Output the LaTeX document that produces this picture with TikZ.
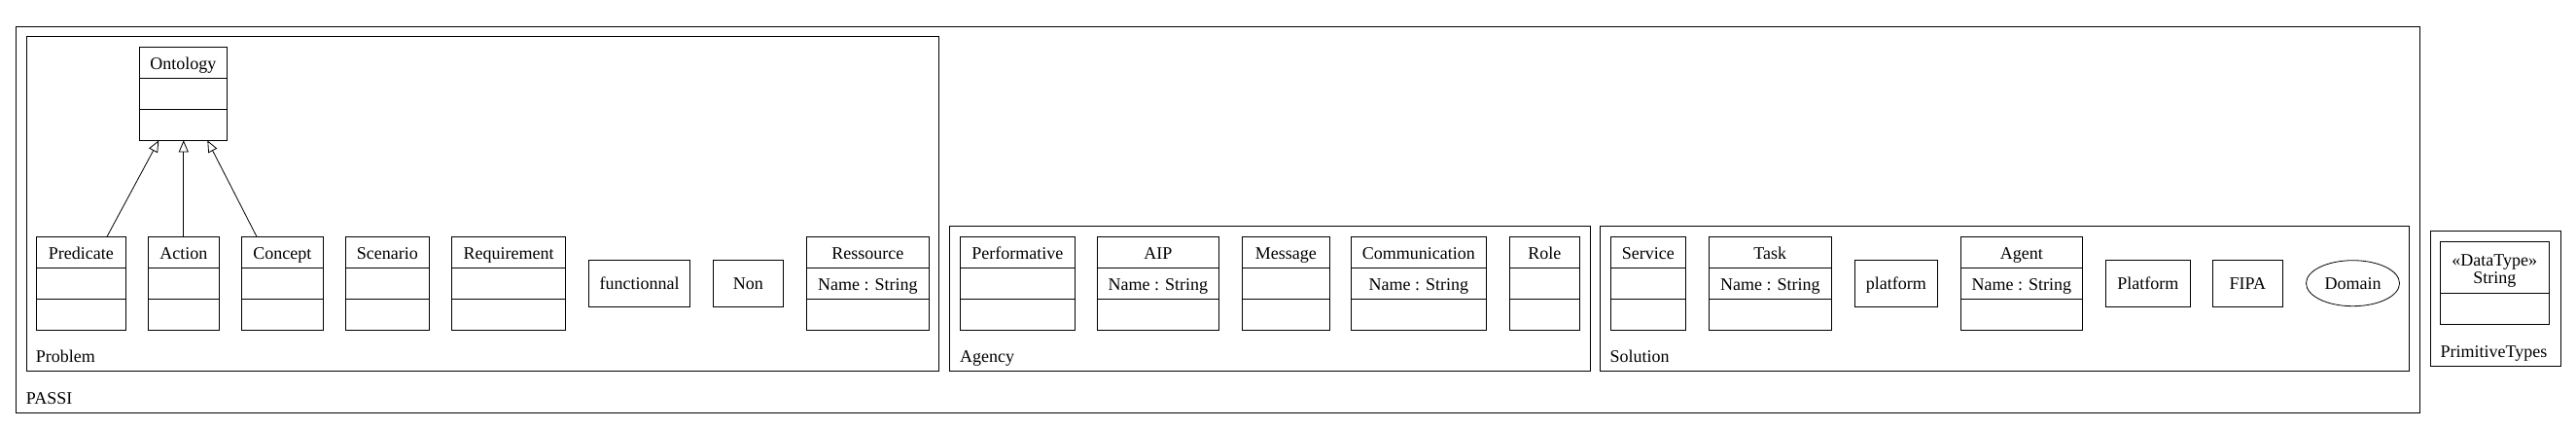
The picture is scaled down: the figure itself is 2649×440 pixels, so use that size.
\documentclass[tikz,border=0pt]{standalone}
\usepackage{fontspec}
\setmainfont{Liberation Serif}
\usetikzlibrary{arrows.meta,shapes.geometric}
\tikzset{
	thin line/.style={line width=0.8pt}
}
\tikzstyle{boxed}=[draw, line width=1pt, inner sep=0pt, outer sep=0pt, anchor=north west]
\tikzstyle{pkglabel}=[inner sep=0pt, anchor=base west]
\tikzstyle{classtext}=[inner sep=0pt, anchor=base]
\tikzstyle{inherits}=[thin line, -{Triangle[open, length=12pt, width=10pt]}]
% package frame: name, left, top, right, bottom
\newcommand{\pkgFrame}[5]{
	\node[boxed, minimum width={#4-#2}, minimum height={#5-#3}] (#1) at (#2,#3) {};
}
% class with two empty compartments: name, left, right, top, title
\newcommand{\umlClass}[5]{
	\node[boxed, minimum width={#3-#2}, minimum height=96] (#1) at (#2,#4) {};
	\draw[line width=1pt] ([yshift=-32pt]#1.north west) -- ([yshift=-32pt]#1.north east);
	\draw[line width=1pt] ([yshift=-64pt]#1.north west) -- ([yshift=-64pt]#1.north east);
	\node[classtext] (#1 title) at ([yshift=-22.7pt]#1.north) {#5};
}
\newcommand{\classAttr}[2]{
	\node[classtext] (#1 attr) at ([yshift=-54.7pt]#1.north) {#2};
}
% plain box: name, left, right, text
\newcommand{\plainBox}[4]{
	\node[boxed, minimum width={#3-#2}, minimum height=48, text height=12pt, text depth=0pt] (#1) at (#2,267.3) {#4};
}

\begin{document}
\begin{tikzpicture}[x=1pt, y=-1pt, font=\fontsize{18}{18.4}\selectfont]
	\fill[white] (0,0) rectangle (2649,440);
	% packages
	\pkgFrame{passi}{16.3}{27.3}{2488.3}{424}
	\pkgFrame{problem}{27.3}{37.3}{965.7}{381}
	\pkgFrame{agency}{976.3}{232.3}{1635.3}{381.3}
	\pkgFrame{solution}{1645.3}{232.3}{2477.3}{381.3}
	\pkgFrame{primitive}{2499.3}{237.3}{2633.3}{376}
	\node[pkglabel] (passi lbl) at (26.7,415) {PASSI};
	\node[pkglabel] (problem lbl) at (36.7,372.3) {Problem};
	\node[pkglabel] (agency lbl) at (987,372) {Agency};
	\node[pkglabel] (solution lbl) at (1655.5,372) {Solution};
	\node[pkglabel] (primitive lbl) at (2509.3,367) {PrimitiveTypes};

	% Problem
	\umlClass{ontology}{143.3}{233.3}{48.3}{Ontology}
	\umlClass{predicate}{37.3}{129.3}{243.3}{Predicate}
	\umlClass{action}{152.3}{225.3}{243.3}{Action}
	\umlClass{concept}{248.3}{332.3}{243.3}{Concept}
	\umlClass{scenario}{355.3}{441.3}{243.3}{Scenario}
	\umlClass{requirement}{464.3}{581.7}{243.3}{Requirement}
	\plainBox{functionnal}{605.3}{709.7}{functionnal}
	\plainBox{non}{733.3}{805.3}{Non}
	\umlClass{ressource}{829.3}{955.3}{243.3}{Ressource}
	\classAttr{ressource}{Name : String}
	\draw[inherits] ([xshift=26.7pt]predicate.north) -- ([xshift=-25pt]ontology.south);
	\draw[inherits] (action.north) -- (action.north |- ontology.south);
	\draw[inherits] ([xshift=-26.3pt]concept.north) -- ([xshift=25pt]ontology.south);

	% Agency
	\umlClass{performative}{987.3}{1105.3}{243.3}{Performative}
	\umlClass{aip}{1128.3}{1253.3}{243.3}{AIP}
	\classAttr{aip}{Name : String}
	\umlClass{message}{1277.3}{1367.3}{243.3}{Message}
	\umlClass{communication}{1389.3}{1528.3}{243.3}{Communication}
	\classAttr{communication}{Name : String}
	\umlClass{role}{1552.3}{1624.3}{243.3}{Role}

	% Solution
	\umlClass{service}{1656.3}{1733.3}{243.3}{Service}
	\umlClass{task}{1757.3}{1883.3}{243.3}{Task}
	\classAttr{task}{Name : String}
	\plainBox{platformlow}{1907.3}{1992.3}{platform}
	\umlClass{agent}{2016.3}{2141.3}{243.3}{Agent}
	\classAttr{agent}{Name : String}
	\plainBox{platform}{2165.3}{2252.3}{Platform}
	\plainBox{fipa}{2275.3}{2347.3}{FIPA}
	\node[draw, ellipse, thin line, minimum width=96, minimum height=47, inner sep=0pt] (domain) at (2419.5,291.2) {Domain};

	% PrimitiveTypes
	\node[boxed, minimum width=112, minimum height=85] (string) at (2509.3,248.3) {};
	\draw[line width=1pt] ([yshift=-53pt]string.north west) -- ([yshift=-53pt]string.north east);
	\node[classtext] (string stereo) at ([yshift=-25pt]string.north) {«DataType»};
	\node[classtext] (string title) at ([yshift=-43.4pt]string.north) {String};
\end{tikzpicture}
\end{document}
